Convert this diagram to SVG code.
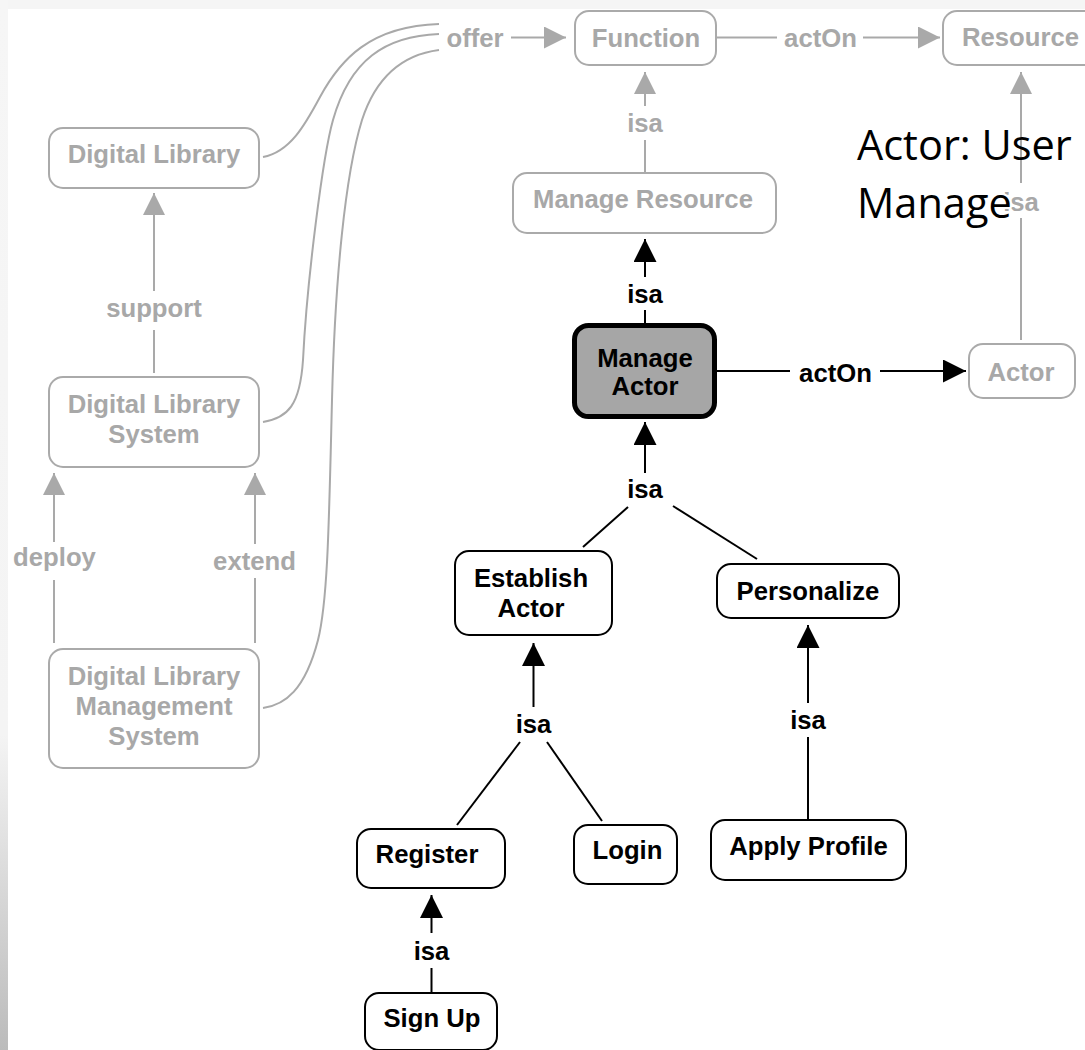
<svg xmlns="http://www.w3.org/2000/svg" width="1085" height="1050" viewBox="0 0 1085 1050">
  <defs>
    <linearGradient id="edge" x1="0" y1="0" x2="0" y2="1">
      <stop offset="0" stop-color="#f6f6f6"/>
      <stop offset="0.7" stop-color="#f4f4f4"/>
      <stop offset="1" stop-color="#bbbbbb"/>
    </linearGradient>
    <marker id="ah-gray" viewBox="0 0 22 22" refX="22" refY="11" markerWidth="22" markerHeight="22" markerUnits="userSpaceOnUse" orient="auto">
      <path d="M0,0 L22,11 L0,22 Z" fill="#a9a9a9"/>
    </marker>
    <marker id="ah-black" viewBox="0 0 23 23" refX="23" refY="11.5" markerWidth="23" markerHeight="23" markerUnits="userSpaceOnUse" orient="auto">
      <path d="M0,0 L23,11.5 L0,23 Z" fill="#000"/>
    </marker>
    <style>
      text { font-family: "Liberation Sans", Arial, Helvetica, sans-serif; font-weight: bold; font-size: 25.7px; text-anchor: middle; }
      .g text, text.g { fill: #a8a8a8; }
      .k text, text.k { fill: #000; }
      .node-g rect { fill: #fff; stroke: #aaaaaa; stroke-width: 2; }
      .node-k rect { fill: #fff; stroke: #000; stroke-width: 2; }
      .line-g { fill: none; stroke: #a9a9a9; stroke-width: 2; }
      .line-k { fill: none; stroke: #000; stroke-width: 2; }
      .arr-g { marker-end: url(#ah-gray); }
      .arr-k { marker-end: url(#ah-black); }
      .note { font-family: "Open Sans", "Noto Sans", sans-serif; font-weight: normal; font-size: 41.5px; text-anchor: start; fill: #000; }
    </style>
  </defs>

  <!-- page background with light frame -->
  <rect x="0" y="0" width="1085" height="1050" fill="#f5f5f5"/>
  <rect x="0" y="0" width="8" height="1050" fill="url(#edge)"/>
  <rect x="8" y="9" width="1077" height="1041" fill="#ffffff"/>

  <!-- connectors -->
  <g id="connectors">
    <!-- offer: three systems to Function -->
    <path class="line-g" d="M263,157 C290,152 305,125 320,97 C340,60 370,26 439,24"/>
    <path class="line-g" d="M439,34 C385,36 350,60 333,120 C323,155 307,280 303,360 C300,405 288,418 263,422"/>
    <path class="line-g" d="M439,50 C400,55 375,80 362,120 C345,175 335,280 332,400 C329,520 328,600 318,640 C305,690 285,705 263,708"/>
    <text class="g" x="475" y="47">offer</text>
    <line class="line-g arr-g" x1="511" y1="37.5" x2="566" y2="37.5"/>

    <!-- Function actOn Resource -->
    <line class="line-g" x1="716" y1="37.5" x2="777" y2="37.5"/>
    <text class="g" x="820.5" y="47">actOn</text>
    <line class="line-g arr-g" x1="863" y1="37.5" x2="940" y2="37.5"/>

    <!-- Manage Resource isa Function -->
    <line class="line-g" x1="645" y1="173" x2="645" y2="140"/>
    <text class="g" x="645" y="132">isa</text>
    <line class="line-g arr-g" x1="645" y1="106" x2="645" y2="72"/>

    <!-- Actor isa Resource -->
    <line class="line-g" x1="1021" y1="340" x2="1021" y2="218"/>
    <text class="g" x="1021" y="211">isa</text>
    <line class="line-g arr-g" x1="1021" y1="183" x2="1021" y2="72"/>

    <!-- Digital Library System support Digital Library -->
    <line class="line-g" x1="154" y1="373" x2="154" y2="330"/>
    <text class="g" x="154" y="317">support</text>
    <line class="line-g arr-g" x1="154" y1="291" x2="154" y2="193"/>

    <!-- DLMS deploy / extend DLS -->
    <line class="line-g" x1="54" y1="643" x2="54" y2="580"/>
    <text class="g" x="54.5" y="566">deploy</text>
    <line class="line-g arr-g" x1="54" y1="542" x2="54" y2="473"/>
    <line class="line-g" x1="255" y1="643" x2="255" y2="578"/>
    <text class="g" x="254.5" y="570">extend</text>
    <line class="line-g arr-g" x1="255" y1="544" x2="255" y2="473"/>

    <!-- Manage Actor isa Manage Resource -->
    <line class="line-k" x1="645" y1="323" x2="645" y2="310"/>
    <text class="k" x="645" y="303">isa</text>
    <line class="line-k arr-k" x1="645" y1="277" x2="645" y2="239"/>

    <!-- Manage Actor actOn Actor -->
    <line class="line-k" x1="717" y1="371" x2="790" y2="371"/>
    <text class="k" x="835.5" y="382">actOn</text>
    <line class="line-k arr-k" x1="880" y1="371" x2="966" y2="371"/>

    <!-- Establish Actor / Personalize isa Manage Actor -->
    <line class="line-k arr-k" x1="645" y1="473" x2="645" y2="422"/>
    <text class="k" x="645" y="498">isa</text>
    <line class="line-k" x1="628" y1="507" x2="583" y2="547"/>
    <line class="line-k" x1="673" y1="506" x2="757" y2="559"/>

    <!-- Register / Login isa Establish Actor -->
    <line class="line-k arr-k" x1="533.5" y1="707" x2="533.5" y2="643"/>
    <text class="k" x="533.5" y="733">isa</text>
    <line class="line-k" x1="520" y1="742" x2="457" y2="825"/>
    <line class="line-k" x1="547" y1="742" x2="602" y2="821"/>

    <!-- Apply Profile isa Personalize -->
    <line class="line-k" x1="808" y1="819" x2="808" y2="737"/>
    <text class="k" x="808" y="729">isa</text>
    <line class="line-k arr-k" x1="808" y1="703" x2="808" y2="625"/>

    <!-- Sign Up isa Register -->
    <line class="line-k" x1="431.5" y1="992" x2="431.5" y2="968"/>
    <text class="k" x="431.5" y="960">isa</text>
    <line class="line-k arr-k" x1="431.5" y1="933" x2="431.5" y2="895"/>
  </g>

  <!-- nodes -->
  <g id="digital-library" class="node-g g">
    <rect x="49" y="128" width="210" height="60" rx="14"/>
    <text x="154" y="163">Digital Library</text>
  </g>
  <g id="digital-library-system" class="node-g g">
    <rect x="49" y="377" width="210" height="90" rx="14"/>
    <text x="154" y="413">Digital Library</text>
    <text x="154" y="443">System</text>
  </g>
  <g id="digital-library-management-system" class="node-g g">
    <rect x="49" y="649" width="210" height="119" rx="14"/>
    <text x="154" y="685">Digital Library</text>
    <text x="154" y="715">Management</text>
    <text x="154" y="745">System</text>
  </g>
  <g id="function" class="node-g g">
    <rect x="575" y="11" width="141" height="54" rx="14"/>
    <text x="646" y="47">Function</text>
  </g>
  <g id="resource" class="node-g g">
    <rect x="943" y="11" width="156" height="54" rx="14"/>
    <text x="1020.5" y="46">Resource</text>
  </g>
  <g id="manage-resource" class="node-g g">
    <rect x="513" y="173" width="263" height="60" rx="14"/>
    <text x="643" y="208">Manage Resource</text>
  </g>
  <g id="actor" class="node-g g">
    <rect x="969" y="344" width="106" height="54" rx="14"/>
    <text x="1021" y="381">Actor</text>
  </g>
  <g id="manage-actor" class="k">
    <rect x="574.5" y="325.5" width="140" height="91" rx="14" fill="#a6a6a6" stroke="#000" stroke-width="5"/>
    <text x="645" y="367">Manage</text>
    <text x="645" y="395">Actor</text>
  </g>
  <g id="establish-actor" class="node-k k">
    <rect x="455" y="551" width="157" height="84" rx="14"/>
    <text x="531" y="587">Establish</text>
    <text x="531" y="617">Actor</text>
  </g>
  <g id="personalize" class="node-k k">
    <rect x="717" y="564" width="182" height="54" rx="14"/>
    <text x="808" y="600">Personalize</text>
  </g>
  <g id="register" class="node-k k">
    <rect x="357" y="829" width="148" height="59" rx="14"/>
    <text x="427" y="863">Register</text>
  </g>
  <g id="login" class="node-k k">
    <rect x="574" y="825" width="103" height="59" rx="14"/>
    <text x="627.5" y="859">Login</text>
  </g>
  <g id="apply-profile" class="node-k k">
    <rect x="711" y="820" width="195" height="60" rx="14"/>
    <text x="808.5" y="855">Apply Profile</text>
  </g>
  <g id="sign-up" class="node-k k">
    <rect x="365" y="993" width="132" height="57" rx="14"/>
    <text x="432" y="1027">Sign Up</text>
  </g>

  <!-- annotation -->
  <g id="annotation">
    <text class="note" x="857" y="160">Actor: User</text>
    <text class="note" x="857" y="218" stroke="#fff" stroke-width="4" paint-order="stroke" stroke-linejoin="round">Manage</text>
  </g>
</svg>
